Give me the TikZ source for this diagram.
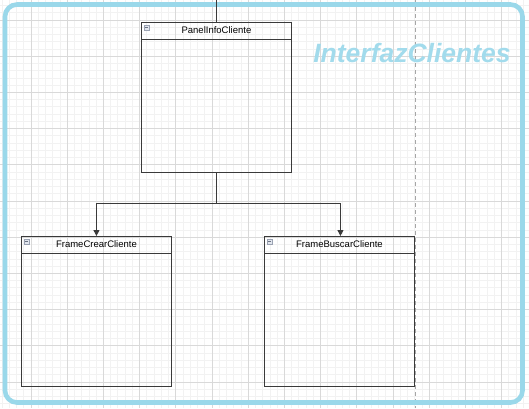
\documentclass[tikz,border=0pt]{standalone}
\usepackage{fontspec}
\setmainfont{Liberation Sans}
\usetikzlibrary{arrows.meta,calc}
\definecolor{frameblue}{HTML}{9AD8EA}
\definecolor{titleblue}{HTML}{A2DBEC}
\definecolor{majorgrid}{HTML}{D9D9D9}
\definecolor{minorgrid}{HTML}{F2F2F2}
\definecolor{boxline}{HTML}{3A3A3A}
\definecolor{iconline}{HTML}{9AA2B2}
\definecolor{iconfill}{HTML}{E2E6EE}
\definecolor{iconmark}{HTML}{6A7282}
\tikzset{
  minorline/.style={draw=minorgrid,line width=0.8pt},
  majorline/.style={draw=majorgrid,line width=0.9pt},
  classbox/.style={draw=boxline,line width=0.9pt,fill=none,minimum width=150pt,minimum height=150pt,anchor=north west,inner sep=0pt},
  classtitle/.style={font=\fontsize{9.5}{11}\selectfont,text=black,inner sep=0pt,anchor=center},
  conn/.style={draw=boxline,line width=0.9pt},
  arrowconn/.style={conn,-{Triangle[length=6pt,width=6pt]}},
  iconbox/.style={draw=iconline,fill=iconfill,line width=0.5pt},
}
\newcommand{\classhead}[1]{%
  \draw[conn] (#1.north west) ++(0,17) -- ++(150,0);
  \draw[iconbox] (#1.north west) ++(3,3.2) rectangle ++(5.2,4.8);
  \draw[draw=iconmark,line width=0.6pt] (#1.north west) ++(4,5.6) -- ++(3.2,0);
}
\begin{document}
\begin{tikzpicture}[x=1pt,y=-1pt]
\useasboundingbox (0,0) rectangle (529,408);
\clip (0,0) rectangle (529,408);
\fill[white] (0,0) rectangle (529,408);
% grid
\foreach \k in {0,...,74} \draw[minorline] ({-5.2+7.24*\k},0) -- ++(0,408);
\foreach \k in {0,...,57} \draw[minorline] (0,{-1.72+7.24*\k}) -- ++(529,0);
\foreach \k in {0,...,15} \draw[majorline] ({-5.2+36.2*\k},0) -- ++(0,408);
\foreach \k in {0,...,12} \draw[majorline] (0,{-16.2+36.2*\k}) -- ++(529,0);
% dashed page line
\draw[draw=gray!70,line width=0.9pt,dash pattern=on 4pt off 3pt] (415,0) -- (415,408);
% frame
\draw[draw=frameblue,line width=4.6pt,rounded corners=12pt] (5,4.5) rectangle (522.5,402.5);
\node[font=\bfseries\itshape\fontsize{26.5}{30}\selectfont,text=titleblue,anchor=base,inner sep=0pt] (title) at (412,62) {InterfazClientes};
% classes
\node[classbox] (panel) at (141,22) {};
\node[classbox] (crear) at (21,236) {};
\node[classbox] (buscar) at (264,236) {};
\classhead{panel}
\classhead{crear}
\classhead{buscar}
\node[classtitle] (panelt) at ($(panel.north)+(0,8.5)$) {PanelInfoCliente};
\node[classtitle] (creart) at ($(crear.north)+(0,8.5)$) {FrameCrearCliente};
\node[classtitle] (buscart) at ($(buscar.north)+(0,8.5)$) {FrameBuscarCliente};
% connectors
\coordinate (top) at (216,0);
\coordinate (junction) at (216,203);
\draw[conn] (top) -- (top |- panel.north);
\draw[conn] (junction |- panel.south) -- (junction);
\draw[arrowconn] (junction) -| (crear.north);
\draw[arrowconn] (junction) -| ($(buscar.north)+(1,0)$);
\end{tikzpicture}
\end{document}
